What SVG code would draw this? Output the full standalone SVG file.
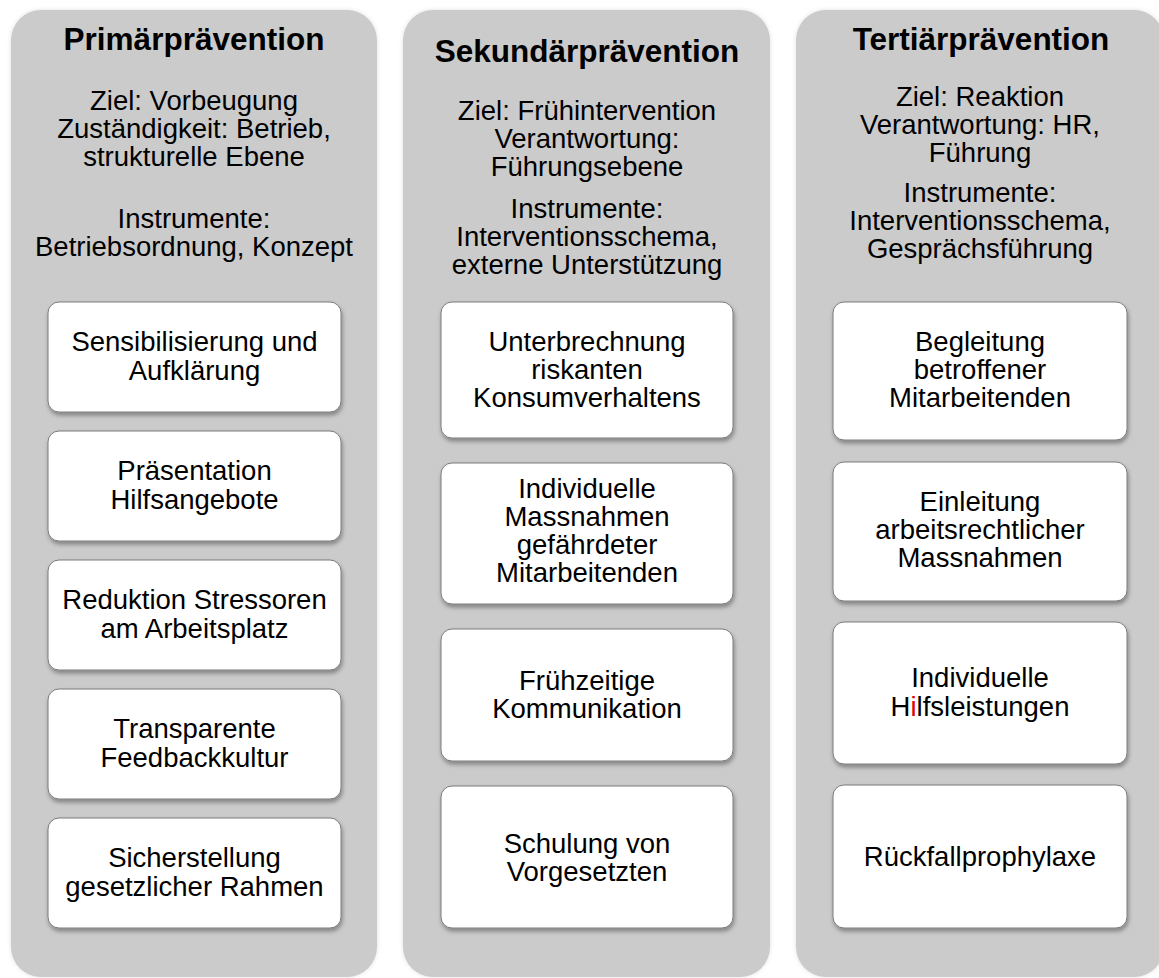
<svg xmlns="http://www.w3.org/2000/svg" width="1159" height="978" viewBox="0 0 1159 978">
<defs>
<filter id="sh" x="-10%" y="-10%" width="125%" height="130%">
<feDropShadow dx="1" dy="3" stdDeviation="2" flood-color="#000" flood-opacity="0.35"/>
</filter>
<filter id="psh" x="-5%" y="-5%" width="110%" height="110%">
<feDropShadow dx="0" dy="0" stdDeviation="2" flood-color="#000" flood-opacity="0.12"/>
</filter>
</defs>
<style>
.panel{fill:#cbcbcb;filter:url(#psh)}
.box{fill:#fff;stroke:#7a7a7a;stroke-width:1;filter:url(#sh)}
text{font-family:"Liberation Sans",Arial,sans-serif;fill:#000;text-anchor:middle}
.t{font-size:31.5px;font-weight:bold}
.b{font-size:27.5px}
</style>
<rect width="1159" height="978" fill="#fff"/>

<g id="col1">
<rect class="panel" x="11" y="10" width="366" height="967" rx="30"/>
<text class="t" x="194" y="50">Primärprävention</text>
<text class="b" x="194" y="110">Ziel: Vorbeugung<tspan x="194" dy="28">Zuständigkeit: Betrieb,</tspan><tspan x="194" dy="28">strukturelle Ebene</tspan></text>
<text class="b" x="194" y="228">Instrumente:<tspan x="194" dy="28">Betriebsordnung, Konzept</tspan></text>
</g>
<g id="col2">
<rect class="panel" x="403" y="10" width="367" height="967" rx="30"/>
<text class="t" x="587" y="62">Sekundärprävention</text>
<text class="b" x="587" y="120">Ziel: Frühintervention<tspan x="587" dy="28">Verantwortung:</tspan><tspan x="587" dy="28">Führungsebene</tspan></text>
<text class="b" x="587" y="218">Instrumente:<tspan x="587" dy="28">Interventionsschema,</tspan><tspan x="587" dy="28">externe Unterstützung</tspan></text>
</g>
<g id="col3">
<rect class="panel" x="796" y="10" width="368" height="967" rx="30"/>
<text class="t" x="981" y="50">Tertiärprävention</text>
<text class="b" x="980" y="106">Ziel: Reaktion<tspan x="980" dy="28">Verantwortung: HR,</tspan><tspan x="980" dy="28">Führung</tspan></text>
<text class="b" x="980" y="202">Instrumente:<tspan x="980" dy="28">Interventionsschema,</tspan><tspan x="980" dy="28">Gesprächsführung</tspan></text>
</g>

<g id="p1">
<rect class="box" x="48" y="302" width="293" height="110" rx="11"/>
<text class="b" x="194.5" y="351">Sensibilisierung und<tspan x="194.5" dy="29">Aufklärung</tspan></text>
</g>
<g id="p2">
<rect class="box" x="48" y="431" width="293" height="110" rx="11"/>
<text class="b" x="194.5" y="480">Präsentation<tspan x="194.5" dy="29">Hilfsangebote</tspan></text>
</g>
<g id="p3">
<rect class="box" x="48" y="560" width="293" height="110" rx="11"/>
<text class="b" x="194.5" y="609">Reduktion Stressoren<tspan x="194.5" dy="29">am Arbeitsplatz</tspan></text>
</g>
<g id="p4">
<rect class="box" x="48" y="689" width="293" height="110" rx="11"/>
<text class="b" x="194.5" y="738">Transparente<tspan x="194.5" dy="29">Feedbackkultur</tspan></text>
</g>
<g id="p5">
<rect class="box" x="48" y="818" width="293" height="110" rx="11"/>
<text class="b" x="194.5" y="867">Sicherstellung<tspan x="194.5" dy="29">gesetzlicher Rahmen</tspan></text>
</g>

<g id="s1">
<rect class="box" x="441" y="302" width="292" height="136" rx="11"/>
<text class="b" x="587" y="351">Unterbrechnung<tspan x="587" dy="28">riskanten</tspan><tspan x="587" dy="28">Konsumverhaltens</tspan></text>
</g>
<g id="s2">
<rect class="box" x="441" y="463" width="292" height="141" rx="11"/>
<text class="b" x="587" y="498">Individuelle<tspan x="587" dy="28">Massnahmen</tspan><tspan x="587" dy="28">gefährdeter</tspan><tspan x="587" dy="28">Mitarbeitenden</tspan></text>
</g>
<g id="s3">
<rect class="box" x="441" y="629" width="292" height="132" rx="11"/>
<text class="b" x="587" y="690">Frühzeitige<tspan x="587" dy="28">Kommunikation</tspan></text>
</g>
<g id="s4">
<rect class="box" x="441" y="786" width="292" height="142" rx="11"/>
<text class="b" x="587" y="853">Schulung von<tspan x="587" dy="28">Vorgesetzten</tspan></text>
</g>

<g id="t1">
<rect class="box" x="833" y="302" width="294" height="138" rx="11"/>
<text class="b" x="980" y="351">Begleitung<tspan x="980" dy="28">betroffener</tspan><tspan x="980" dy="28">Mitarbeitenden</tspan></text>
</g>
<g id="t2">
<rect class="box" x="833" y="462" width="294" height="139" rx="11"/>
<text class="b" x="980" y="511">Einleitung<tspan x="980" dy="28">arbeitsrechtlicher</tspan><tspan x="980" dy="28">Massnahmen</tspan></text>
</g>
<g id="t3">
<rect class="box" x="833" y="622" width="294" height="142" rx="11"/>
<text class="b" x="980" y="687">Individuelle<tspan x="980" dy="29">H</tspan><tspan fill="#e00000">i</tspan><tspan>lfsleistungen</tspan></text>
</g>
<g id="t4">
<rect class="box" x="833" y="785" width="294" height="143" rx="11"/>
<text class="b" x="980" y="866">Rückfallprophylaxe</text>
</g>

<g id="connectors"></g>
</svg>
